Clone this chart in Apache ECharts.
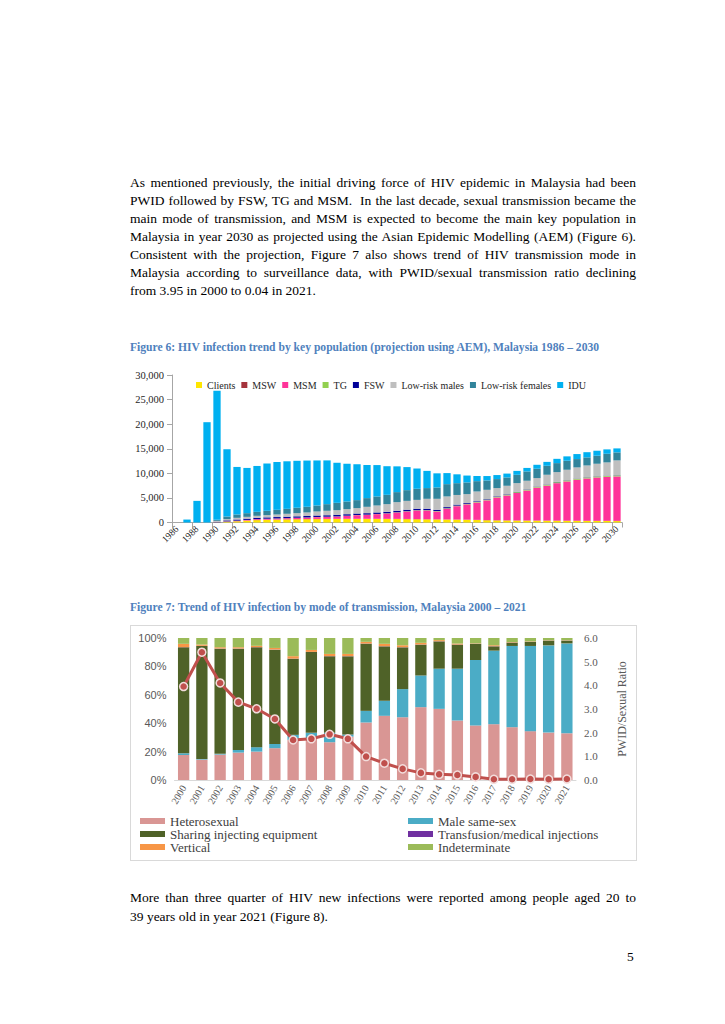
<!DOCTYPE html>
<html><head><meta charset="utf-8">
<script src="https://cdn.jsdelivr.net/npm/echarts/dist/echarts.min.js"></script>
<style>
html,body{margin:0;padding:0;background:#fff;}
#page{position:relative;width:725px;height:1024px;overflow:hidden;font-family:"Liberation Serif","DejaVu Serif",serif;}
.ln{position:absolute;left:130px;width:506px;font-size:13.5px;line-height:18px;height:18px;white-space:nowrap;text-align:justify;text-align-last:justify;color:#000;}
.ln.last{text-align-last:left;}
.cap{position:absolute;left:130px;font-size:11.6px;line-height:12px;font-weight:bold;color:#4F81BD;white-space:nowrap;}
#fig6{position:absolute;left:125px;top:365px;width:515px;height:200px;}
#fig7{position:absolute;left:130px;top:625px;width:505px;height:234px;border:1px solid #D9D9D9;}
#pn{position:absolute;left:627px;top:948px;font-size:13.5px;line-height:18px;}
</style></head>
<body><div id="page">
<div class="ln" style="top:174px">As mentioned previously, the initial driving force of HIV epidemic in Malaysia had been</div>
<div class="ln" style="top:192px">PWID followed by FSW, TG and MSM.&nbsp; In the last decade, sexual transmission became the</div>
<div class="ln" style="top:210px">main mode of transmission, and MSM is expected to become the main key population in</div>
<div class="ln" style="top:228px">Malaysia in year 2030 as projected using the Asian Epidemic Modelling (AEM) (Figure 6).</div>
<div class="ln" style="top:246px">Consistent with the projection, Figure 7 also shows trend of HIV transmission mode in</div>
<div class="ln" style="top:264px">Malaysia according to surveillance data, with PWID/sexual transmission ratio declining</div>
<div class="ln last" style="top:282px">from 3.95 in 2000 to 0.04 in 2021.</div>
<div class="cap" style="top:342px">Figure 6: HIV infection trend by key population (projection using AEM), Malaysia 1986 – 2030</div>
<div id="fig6"></div>
<div class="cap" style="top:602px">Figure 7: Trend of HIV infection by mode of transmission, Malaysia 2000 – 2021</div>
<div id="fig7"></div>
<div class="ln" style="top:889px">More than three quarter of HIV new infections were reported among people aged 20 to</div>
<div class="ln last" style="top:908px">39 years old in year 2021 (Figure 8).</div>
<div id="pn">5</div>
</div>
<script>
// ---------- Figure 6 data ----------
var years6 = ['1986','1987','1988','1989','1990','1991','1992','1993','1994','1995','1996','1997','1998','1999','2000','2001','2002','2003','2004','2005','2006','2007','2008','2009','2010','2011','2012','2013','2014','2015','2016','2017','2018','2019','2020','2021','2022','2023','2024','2025','2026','2027','2028','2029','2030'];
var clients = [0,0,0,0,30,150,250,380,480,540,580,620,650,670,690,700,710,720,720,720,720,710,700,680,660,640,620,600,580,550,500,450,420,400,380,370,360,350,340,330,320,310,300,300,290];
var msw = [0,0,0,0,0,10,20,20,30,30,30,40,40,40,40,40,40,40,40,40,40,40,40,40,40,40,40,40,40,40,40,40,40,40,40,40,40,40,40,40,40,40,40,40,40];
var msm = [0,0,0,0,20,60,100,120,170,180,200,220,260,290,360,410,470,600,730,800,940,1080,1300,1520,1740,1760,1580,2160,2700,3100,3530,4010,4630,5060,5580,6090,6700,7110,7620,7980,8340,8610,8820,8960,9040];
var tg = [0,0,0,0,0,10,10,10,20,20,20,20,20,30,30,30,30,30,30,40,40,50,50,60,70,80,90,100,110,120,130,140,150,160,170,180,180,190,190,200,200,200,200,200,200];
var fsw = [0,0,0,0,100,200,230,250,260,270,280,280,290,290,300,300,300,300,300,300,300,300,300,300,290,280,260,230,200,160,130,110,100,90,80,70,60,60,60,50,50,50,50,50,50];
var lrm = [0,0,0,0,190,250,340,370,400,450,520,590,640,720,820,900,950,1030,1100,1290,1420,1550,1750,1800,1800,2020,2230,2170,1970,1800,1980,1900,1660,1720,1760,1740,1690,1960,2000,2130,2250,2390,2540,2670,3010];
var lrf = [0,0,0,0,200,540,680,750,810,890,950,1010,1100,1160,1220,1350,1500,1560,1630,1770,1840,1900,2040,2180,2260,2180,2310,2500,2400,2380,2100,1900,1830,1690,1690,1900,1900,1830,1830,1830,1700,1640,1630,1760,1630];
var idu = [0,600,4400,20400,26260,13680,9670,9200,9330,9620,9720,9670,9550,9400,9160,8900,8150,7670,7300,6740,6380,5820,5240,4690,4120,3500,2870,2250,1800,1400,1050,900,820,790,800,710,810,790,870,890,1020,1060,1020,890,810];
var names6 = ['Clients','MSW','MSM','TG','FSW','Low-risk males','Low-risk females','IDU'];
var colors6 = ['#FFE600','#A5333C','#FF3399','#92D050','#000099','#BFBFBF','#31849B','#00B0F0'];

// ---------- Figure 7 data ----------
var years7 = ['2000','2001','2002','2003','2004','2005','2006','2007','2008','2009','2010','2011','2012','2013','2014','2015','2016','2017','2018','2019','2020','2021'];
var hetero = [17.6,14.4,17.9,19.3,20.0,22.4,28.2,29.4,26.6,30.5,40.5,45.2,44.2,51.3,50.1,41.9,38.4,39.3,37.2,34.4,33.4,32.9];
var maleSameSex = [1.2,0.4,0.5,1.9,3.1,3.0,3.6,3.8,6.6,1.5,8.2,10.6,19.8,22.3,28.3,36.5,46.1,51.8,57.2,60.0,61.4,63.3];
var sharing = [74.6,79.6,74.1,71.3,70.3,66.4,53.6,56.9,53.9,55.1,47.3,38.3,29.4,21.7,19.2,16.9,11.3,3.0,2.3,2.8,3.3,1.9];
var transfusion = [0.1,0.1,0.1,0.1,0.1,0.1,0.1,0.1,0.1,0.1,0.1,0.1,0.1,0.1,0.1,0.1,0.1,0.1,0.1,0.1,0.1,0.1];
var vertical = [2.4,0.9,0.9,0.9,1.0,1.1,1.7,1.4,1.6,1.6,1.2,1.7,1.4,1.2,0.8,0.7,0.3,0.7,0.3,0.3,0.2,0.2];
var indeterminate = [4.1,4.6,6.5,6.5,5.5,7.0,12.8,8.4,11.2,11.2,2.7,4.1,5.1,3.4,1.5,3.9,3.8,5.1,2.9,2.4,1.6,1.6];
var ratio = [3.95,5.40,4.10,3.29,3.01,2.58,1.69,1.74,1.93,1.74,0.99,0.71,0.47,0.30,0.24,0.21,0.13,0.03,0.03,0.04,0.03,0.04];
var names7 = ['Heterosexual','Male same-sex','Sharing injecting equipment','Transfusion/medical injections','Vertical','Indeterminate'];
var colors7 = ['#D99694','#4BACC6','#4F6228','#7030A0','#F79646','#9BBB59'];

var SERIF = '"Liberation Serif","DejaVu Serif",serif';
var SANS = '"Liberation Sans","DejaVu Sans",sans-serif';

// ---------- Figure 6 chart ----------
var c6 = echarts.init(document.getElementById('fig6'), null, {renderer:'svg'});
var data6 = [clients,msw,msm,tg,fsw,lrm,lrf,idu];
c6.setOption({
  animation:false,
  legend:{data:names6, left:66, top:10, icon:'rect', itemWidth:6, itemHeight:6, itemGap:6,
    textStyle:{fontFamily:SERIF, fontSize:10, color:'#262626'}},
  grid:{left:47, right:18, top:10, height:147.5},
  xAxis:{type:'category', data:years6,
    axisLine:{lineStyle:{color:'#A6A6A6'}},
    axisTick:{show:true, interval:1, lineStyle:{color:'#A6A6A6'}},
    axisLabel:{interval:1, rotate:45, fontFamily:SERIF, fontSize:9.5, color:'#262626', margin:5}},
  yAxis:{type:'value', min:0, max:30000, interval:5000,
    axisLine:{show:true, lineStyle:{color:'#A6A6A6'}},
    axisTick:{show:true, lineStyle:{color:'#A6A6A6'}},
    splitLine:{show:false},
    axisLabel:{fontFamily:SERIF, fontSize:10.5, color:'#262626', margin:8,
      formatter:function(v){return v.toLocaleString('en-US');}}},
  series:names6.map(function(n,i){return {name:n, type:'bar', stack:'a', data:data6[i],
    barCategoryGap:'27%', itemStyle:{color:colors6[i]}};})
});

// ---------- Figure 7 chart ----------
var c7 = echarts.init(document.getElementById('fig7'), null, {renderer:'svg'});
var data7 = [hetero,maleSameSex,sharing,transfusion,vertical,indeterminate];
var legText = {fontFamily:SERIF, fontSize:13, color:'#404040', lineHeight:13};
var legPos = [[9,188.5],[277,188.5],[9,201.5],[277,201.5],[9,214.5],[277,214.5]];
var s7 = names7.map(function(n,i){return {name:n, type:'bar', stack:'p', data:data7[i],
  barCategoryGap:'38%', itemStyle:{color:colors7[i]}};});
s7.push({name:'PWID/Sexual Ratio', type:'line', yAxisIndex:1, data:ratio, z:10,
  symbol:'circle', symbolSize:8, lineStyle:{color:'#C0504D', width:3},
  itemStyle:{color:'#C0504D', borderColor:'#F2DCDB', borderWidth:1.5}});
c7.setOption({
  animation:false,
  legend:names7.map(function(n,i){return {data:[n], left:legPos[i][0], top:legPos[i][1], padding:0,
    icon:'rect', itemWidth:25, itemHeight:6, textStyle:legText};}),
  grid:{left:43.5, right:43, top:12, height:142},
  xAxis:{type:'category', data:years7,
    axisLine:{lineStyle:{color:'#D9D9D9'}}, axisTick:{show:false},
    axisLabel:{interval:0, rotate:60, fontFamily:SERIF, fontSize:10, color:'#595959', margin:6}},
  yAxis:[
    {type:'value', min:0, max:100, interval:20, splitLine:{show:false}, axisLine:{show:false}, axisTick:{show:false},
      axisLabel:{formatter:'{value}%', fontFamily:SANS, fontSize:11, color:'#595959', margin:8}},
    {type:'value', min:0, max:6, interval:1, position:'right', splitLine:{show:false}, axisLine:{show:false}, axisTick:{show:false},
      axisLabel:{formatter:function(v){return v.toFixed(1);}, fontFamily:SERIF, fontSize:11, color:'#595959', margin:8},
      name:'PWID/Sexual Ratio', nameLocation:'middle', nameRotate:90, nameGap:40,
      nameTextStyle:{fontFamily:SERIF, fontSize:12, color:'#595959'}}
  ],
  series:s7
});
</script>
</body></html>
